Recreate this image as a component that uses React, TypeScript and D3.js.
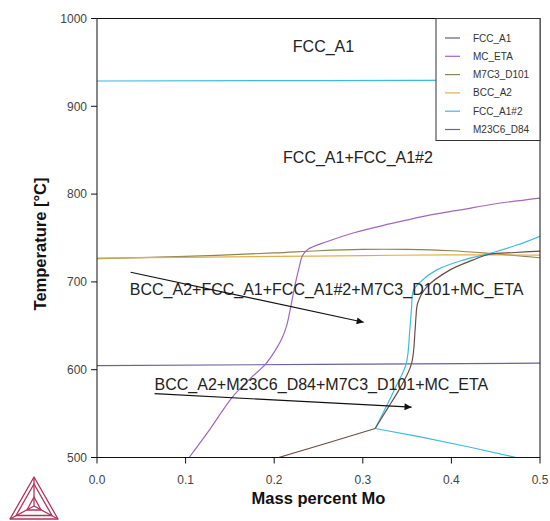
import * as d3 from 'd3'

// tick values
const X_TICKS = [0, 0.1, 0.2, 0.3, 0.4, 0.5]
const Y_TICKS = [500, 600, 700, 800, 900, 1000]

// phase boundaries, [mass % Mo, °C]
const FCC_A1_UPPER = [[0.5, 735], [0.472, 733.5], [0.443, 731.5], [0.424, 724.8], [0.398, 713.4], [0.372, 694], [0.362, 676], [0.36, 660], [0.359, 645], [0.355, 607], [0.342, 579], [0.328, 556], [0.314, 533]]
const FCC_A1_LOWER = [[0.314, 533], [0.26, 516.5], [0.205, 500]]
const FCC_A1_2_TOP = [[0, 928.8], [0.25, 929.3], [0.5, 930]]
const FCC_A1_2_UPPER = [[0.5, 752], [0.474, 742], [0.443, 732.4], [0.413, 724.8], [0.383, 713.4], [0.365, 700], [0.357, 690], [0.355, 670], [0.353, 645], [0.349, 607], [0.337, 580], [0.326, 557], [0.314, 533]]
const FCC_A1_2_LOWER = [[0.314, 533], [0.365, 523.5], [0.42, 512], [0.473, 500]]
const MC_ETA = [[0.104, 500], [0.128, 533], [0.153, 569], [0.172, 589], [0.19, 606], [0.2, 620], [0.208, 634], [0.214, 650], [0.218, 668], [0.223, 694], [0.228, 716], [0.232, 730], [0.238, 737], [0.26, 746], [0.29, 756], [0.33, 766], [0.37, 775], [0.41, 782], [0.45, 789], [0.5, 795.5]]
const M7C3_D101 = [[0, 726.5], [0.1, 729], [0.2, 733], [0.25, 735.5], [0.3, 737], [0.35, 737], [0.4, 735.5], [0.443, 732.5], [0.5, 727.5]]
const BCC_A2 = [[0, 727], [0.1, 728], [0.2, 729], [0.3, 730], [0.4, 730.8], [0.5, 730.5]]
const M23C6_D84 = [[0, 604.7], [0.25, 606], [0.5, 607.5]]

const LEGEND = [
  { name: 'FCC_A1', color: '#6d5a78' },
  { name: 'MC_ETA', color: '#a266bf' },
  { name: 'M7C3_D101', color: '#8c8450' },
  { name: 'BCC_A2', color: '#e2ae4a' },
  { name: 'FCC_A1#2', color: '#3cbcdc' },
  { name: 'M23C6_D84', color: '#6a6498' },
]

// region labels + arrows, in data units
const LABELS = [
  { text: 'FCC_A1', x: 0.221, t: 961.5 },
  { text: 'FCC_A1+FCC_A1#2', x: 0.210, t: 835.5 },
  { text: 'BCC_A2+FCC_A1+FCC_A1#2+M7C3_D101+MC_ETA', x: 0.037, t: 685 },
  { text: 'BCC_A2+M23C6_D84+M7C3_D101+MC_ETA', x: 0.065, t: 576.5 },
]
const ARROWS = [
  { from: [0.038, 711], to: [0.301, 654] },
  { from: [0.065, 572.7], to: [0.355, 557.3] },
]

const W = 550
const H = 521
const m = { left: 97, right: 10, top: 18.5, bottom: 63.5 }

export default function App() {
  const x = d3.scaleLinear().domain([0, 0.5]).range([m.left, W - m.right])
  const y = d3.scaleLinear().domain([500, 1000]).range([H - m.bottom, m.top])
  const smooth = d3.line().x(d => x(d[0])).y(d => y(d[1])).curve(d3.curveCatmullRom.alpha(0.5))
  const straight = d3.line().x(d => x(d[0])).y(d => y(d[1]))

  const col = Object.fromEntries(LEGEND.map(l => [l.name, l.color]))
  const curves = [
    { d: straight(M23C6_D84), c: col['M23C6_D84'] },
    { d: straight(FCC_A1_2_TOP), c: col['FCC_A1#2'] },
    { d: smooth(M7C3_D101), c: col['M7C3_D101'] },
    { d: smooth(BCC_A2), c: col['BCC_A2'] },
    { d: smooth(MC_ETA), c: col['MC_ETA'] },
    { d: smooth(FCC_A1_2_UPPER), c: col['FCC_A1#2'] },
    { d: straight(FCC_A1_2_LOWER), c: col['FCC_A1#2'] },
    { d: smooth(FCC_A1_UPPER), c: '#6e4c44' },
    { d: straight(FCC_A1_LOWER), c: '#6e4c44' },
  ]

  const x0 = x(0), x1 = x(0.5), yT = y(1000), yB = y(500)
  const font = 'Liberation Sans, Arial, sans-serif'

  return (
    <svg width={W} height={H} style={{ position: 'fixed', left: 0, top: 0, background: '#fff' }} fontFamily={font}>
      <defs>
        <clipPath id="plot"><rect x={x0} y={yT} width={x1 - x0} height={yB - yT} /></clipPath>
        <marker id="ah" viewBox="0 0 10 10" refX="10" refY="5" markerWidth="9" markerHeight="7" markerUnits="userSpaceOnUse" orient="auto">
          <path d="M0,0 L10,5 L0,10 z" fill="#111" />
        </marker>
      </defs>

      <g clipPath="url(#plot)" fill="none" strokeWidth={1.2}>
        {curves.map((c, i) => <path key={i} d={c.d} stroke={c.c} />)}
      </g>

      {/* frame */}
      <rect x={x0} y={yT} width={x1 - x0} height={yB - yT} fill="none" stroke="#111" strokeWidth={1} />

      {Y_TICKS.map(t => (
        <g key={t}>
          <line x1={x0 - 6} x2={x0} y1={y(t)} y2={y(t)} stroke="#111" />
          <text x={x0 - 10} y={y(t)} dy="0.35em" textAnchor="end" fontSize={12} fill="#444">{t}</text>
        </g>
      ))}
      {X_TICKS.map(t => (
        <g key={t}>
          <line x1={x(t)} x2={x(t)} y1={yB} y2={yB + 6} stroke="#111" />
          <text x={x(t)} y={yB + 26} textAnchor="middle" fontSize={12} fill="#444">{t.toFixed(1)}</text>
        </g>
      ))}

      <text x={(x0 + x1) / 2} y={504} textAnchor="middle" fontSize={16.5} fontWeight="bold" fill="#111">Mass percent Mo</text>
      <text transform={`translate(46,244) rotate(-90)`} textAnchor="middle" fontSize={16.5} fontWeight="bold" fill="#111">Temperature [°C]</text>

      {LABELS.map(l => (
        <text key={l.text} x={x(l.x)} y={y(l.t)} fontSize={16} fill="#222">{l.text}</text>
      ))}
      {ARROWS.map((a, i) => (
        <line key={i} x1={x(a.from[0])} y1={y(a.from[1])} x2={x(a.to[0])} y2={y(a.to[1])}
          stroke="#111" strokeWidth={1.2} markerEnd="url(#ah)" />
      ))}

      {/* legend */}
      <g transform={`translate(436,${yT})`}>
        <rect x={0} y={0} width={x1 - 436} height={122} fill="#fff" stroke="#333" />
        {LEGEND.map((l, i) => (
          <g key={l.name} transform={`translate(0,${19.5 + i * 18.3})`}>
            <line x1={9} x2={24} y1={0} y2={0} stroke={l.color} strokeWidth={1.2} />
            <text x={37} y={0} dy="0.35em" fontSize={10} fill="#333">{l.name}</text>
          </g>
        ))}
      </g>

      {/* logo */}
      <g fill="none" stroke="#b23358" strokeWidth={1.3} strokeLinejoin="round">
        <path d="M34,477 L10,519 L58,519 Z" />
        <path d="M34,484 L16,515.5 L52,515.5 Z" />
        <path d="M34,477 L34,506 M10,519 L34,506 M58,519 L34,506" />
        <path d="M34,497 L27,510 L41,510 Z" />
      </g>
    </svg>
  )
}
